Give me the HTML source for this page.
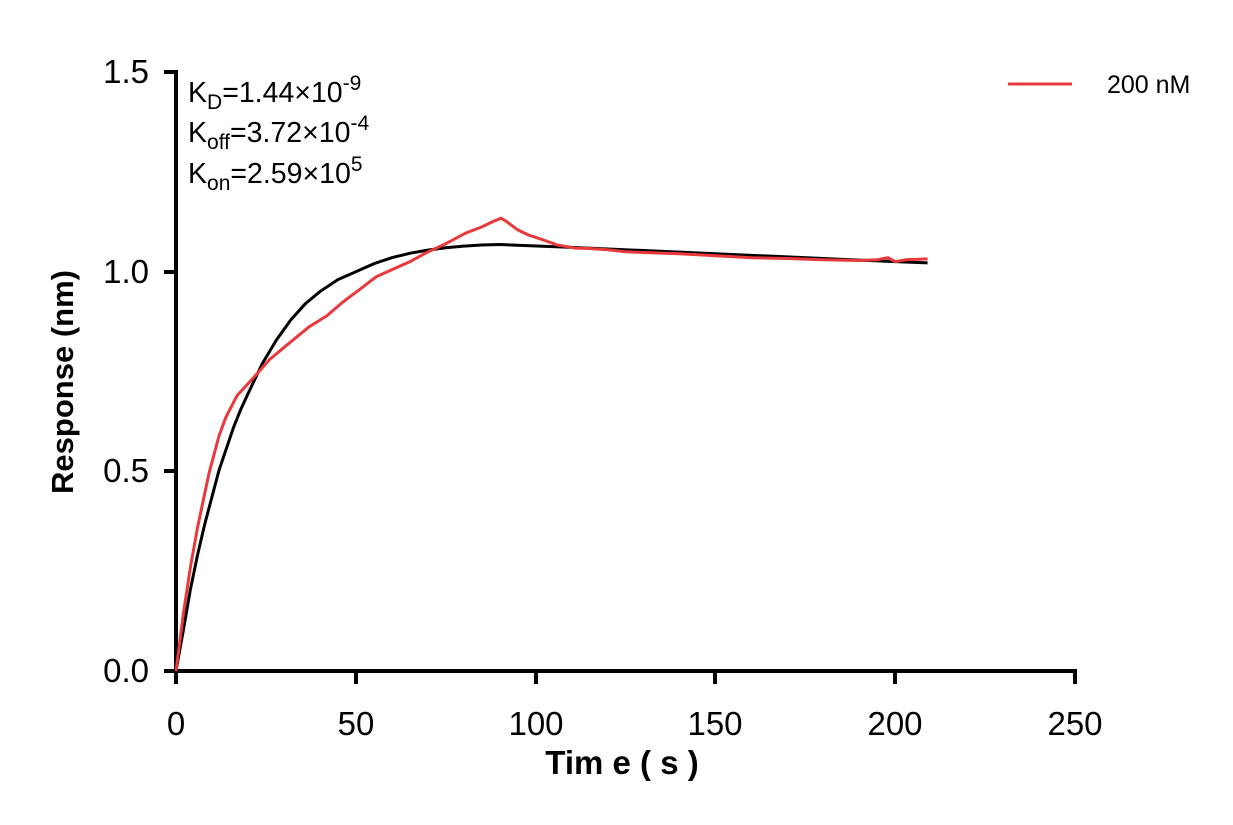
<!DOCTYPE html>
<html><head><meta charset="utf-8"><style>
body{margin:0;background:#fff;}
svg{display:block;font-family:"Liberation Sans",Arial,sans-serif;}
</style></head><body>
<svg width="1233" height="825" viewBox="0 0 1233 825" xmlns="http://www.w3.org/2000/svg">
<rect width="1233" height="825" fill="#fff"/>
<g stroke="#000" stroke-width="4" fill="none">
<line x1="176" y1="70" x2="176" y2="673"/>
<line x1="174" y1="671" x2="1077" y2="671"/>
<line x1="164" y1="72" x2="176" y2="72"/>
<line x1="164" y1="272" x2="176" y2="272"/>
<line x1="164" y1="471" x2="176" y2="471"/>
<line x1="164" y1="671" x2="176" y2="671"/>
<line x1="176" y1="671" x2="176" y2="684"/>
<line x1="356" y1="671" x2="356" y2="684"/>
<line x1="536" y1="671" x2="536" y2="684"/>
<line x1="715" y1="671" x2="715" y2="684"/>
<line x1="895" y1="671" x2="895" y2="684"/>
<line x1="1075" y1="671" x2="1075" y2="684"/>
</g>
<g font-size="33" text-anchor="end">
<text x="149" y="83">1.5</text>
<text x="149" y="283">1.0</text>
<text x="149" y="482">0.5</text>
<text x="149" y="682">0.0</text>
</g>
<g font-size="33" text-anchor="middle">
<text x="176" y="735">0</text>
<text x="356" y="735">50</text>
<text x="536" y="735">100</text>
<text x="715" y="735">150</text>
<text x="895" y="735">200</text>
<text x="1075" y="735">250</text>
</g>
<text x="622" y="774" font-size="33" font-weight="bold" text-anchor="middle">Tim e ( s )</text>
<text transform="translate(73,382) rotate(-90)" font-size="31" font-weight="bold" text-anchor="middle">Response (nm)</text>
<g font-size="28.5">
<text x="188" y="102">K<tspan font-size="21" dy="7">D</tspan><tspan dy="-7">=1.44×10</tspan><tspan font-size="21" dy="-12">-9</tspan></text>
<text x="188" y="142">K<tspan font-size="21" dy="7">off</tspan><tspan dy="-7">=3.72×10</tspan><tspan font-size="21" dy="-12">-4</tspan></text>
<text x="188" y="183">K<tspan font-size="21" dy="7">on</tspan><tspan dy="-7">=2.59×10</tspan><tspan font-size="21" dy="-12">5</tspan></text>
</g>
<line x1="1008" y1="84" x2="1072" y2="84" stroke="#e8393c" stroke-width="3"/>
<text x="1107" y="93" font-size="25">200 nM</text>
<g transform="translate(176,671) scale(3.596,-399.3)" fill="none">
<polyline vector-effect="non-scaling-stroke" stroke="#000" stroke-width="3" points="0,0 2,0.1 4,0.204 6,0.291 8,0.368 10,0.436 12,0.504 14,0.557 16,0.61 18,0.655 20,0.694 24,0.77 28,0.83 32,0.88 36,0.92 40,0.95 45,0.98 50,1.0 55,1.02 60,1.035 65,1.046 70,1.054 75,1.06 80,1.064 85,1.067 90,1.068 110,1.061 130,1.053 150,1.045 170,1.037 190,1.029 209,1.022"/>
<polyline vector-effect="non-scaling-stroke" stroke="#e8393c" stroke-width="3" points="0,0 2,0.14 4,0.26 6,0.36 9.2,0.496 12,0.59 13.9,0.636 17,0.69 21.7,0.736 26,0.78 30,0.81 37,0.862 42,0.89 46.4,0.924 51,0.955 55.6,0.987 60,1.005 65,1.025 69.5,1.047 75,1.07 80.6,1.097 85,1.112 88,1.125 90.4,1.134 92,1.125 95,1.105 98,1.092 102,1.08 106,1.067 111,1.059 115,1.058 120,1.055 125,1.05 130,1.048 140,1.045 150,1.04 160,1.035 170,1.033 180,1.03 190,1.028 195,1.03 198,1.035 200,1.025 203,1.03 209,1.032"/>
</g>
</svg>
</body></html>
